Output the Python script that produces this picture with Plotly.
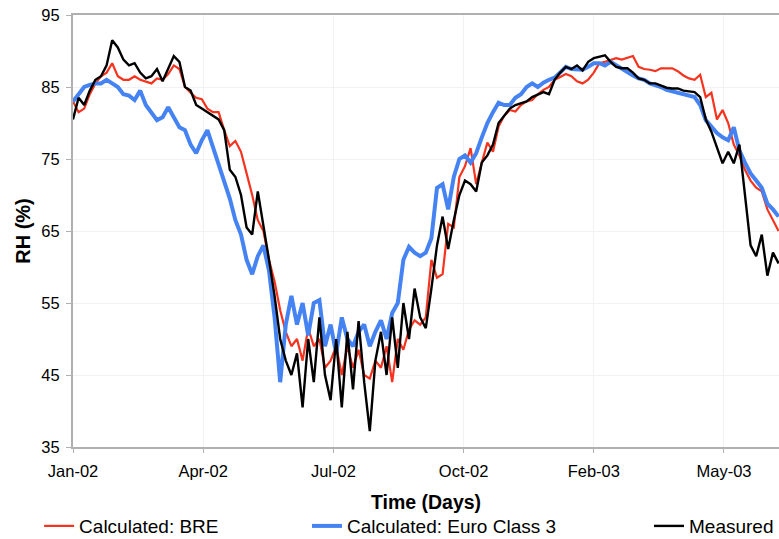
import pandas as pd
import plotly.graph_objects as go

# ---- data (one value every 4 days) ----
start_date = "2002-01-25"
step_days = 4

measured = [80.5, 83.5, 82.5, 84.5, 86, 86.5, 88, 91.5, 90.5, 88.8,
            88, 88.3, 87, 86.2, 86.5, 87.5, 85.8, 87.5, 89.3, 88.5,
            85, 84.5, 82.5, 82, 81.5, 81, 80.5, 79, 73.5, 72.5,
            70, 65.5, 64.5, 70.5, 66, 61, 56, 50, 47, 45,
            48, 40.5, 50, 44, 53, 45, 41.5, 50, 40.5, 51,
            43, 52.5, 44, 37.2, 47, 51, 45, 53, 46, 55,
            50, 57, 53, 51.5, 57, 63, 67, 62.5, 66.5, 70,
            72, 71.5, 70.5, 74.5, 75.5, 77, 80, 81, 82, 82.5,
            82.8, 83, 83.6, 84, 84.3, 84, 86, 87, 87.8, 87.5,
            88, 87.3, 88.5, 89, 89.2, 89.4, 88.5, 87.8, 87.6, 87.6,
            87, 86.2, 86, 85.5, 85.5, 85.2, 84.9, 84.8, 84.8, 84.5,
            84.4, 84.3, 83.6, 80.5, 78.8, 76.7, 74.4, 76, 74.4, 77,
            70, 63, 61.5, 64.5, 58.8, 62, 60.5]

bre = [83, 81.5, 82, 84, 85.5, 86.5, 87, 88.3, 86.5, 86,
       86, 86.5, 86, 85.8, 85.5, 86.2, 86, 86.8, 88, 87.5,
       85, 84.2, 83.5, 83.3, 82, 81.5, 81.5, 79, 76.8, 77.5,
       76, 73, 70, 66.5, 65, 61, 58, 54, 51, 49,
       50, 47, 51.5, 49, 50, 46, 47, 49, 45, 49,
       46, 48.5, 45, 44.5, 47, 46, 49, 44, 50, 48.5,
       51.3, 52.6, 52, 53, 61, 58.5, 59, 66, 65.5, 72.5,
       74, 76.5, 71.5, 74.5, 77.3, 76, 79.5, 81, 81.8, 81.6,
       82.5, 83, 83.2, 84, 84.6, 85, 86, 86.4, 86.8, 86.5,
       85.8, 85.5, 86, 87, 88.3, 88.5, 88.7, 89, 88.8, 89,
       89.3, 87.8, 87.5, 87.4, 87.2, 87.6, 87.6, 87.6, 87.2, 86.6,
       86.2, 86, 86.7, 83.6, 84.2, 80.5, 81.8, 80, 77, 75.5,
       73.5, 72, 71, 70.5, 68, 66.5, 65]

euro3 = [83, 84, 85, 85.3, 85.5, 85.5, 86, 85.5, 85, 84,
         83.8, 83.2, 84.5, 82.5, 81.5, 80.4, 80.8, 82.2, 80.8, 79.4,
         79, 77, 75.8, 77.6, 79, 76.7, 74.5, 72, 69.5, 66.5,
         64.5, 61, 59, 61.5, 63, 59.5, 53, 44, 52, 56,
         52, 55, 50.5, 55, 55.4, 49, 52, 48, 53, 50,
         49, 51, 52, 49, 51, 52.6, 50, 53.6, 55, 61,
         62.8, 62, 61.5, 62, 64, 71, 71.5, 68, 72.5, 75,
         75.5, 74.5, 75.8, 78, 80, 81.5, 82.8, 82.5, 82.5, 83.5,
         84, 85, 85.5, 85, 85.6, 86, 86.3, 87, 87.8, 87.5,
         87.5, 87.4, 87.8, 88.3, 88.3, 88, 88.5, 88, 87.5, 87,
         86.6, 86.2, 86, 85.5, 85.3, 85, 84.6, 84.4, 84.2, 84,
         83.8, 83.6, 82.5, 80.4, 79.5, 78.6, 78, 77.6, 79.4, 76.2,
         74.5, 73, 72, 71, 68.8, 68, 67]

tick_dates = ["2002-01-25", "2002-04-28", "2002-07-30",
              "2002-10-31", "2003-02-01", "2003-05-05"]
tick_labels = ["Jan-02", "Apr-02", "Jul-02", "Oct-02", "Feb-03", "May-03"]
y_ticks = [35, 45, 55, 65, 75, 85, 95]

dates = pd.date_range(start_date, periods=len(measured), freq=f"{step_days}D")

FONT = "Liberation Sans, Arial, sans-serif"

fig = go.Figure()
fig.add_trace(go.Scatter(x=dates, y=bre, mode="lines", name="Calculated: BRE",
                         line=dict(color="#f5331e", width=2.2), legend="legend"))
fig.add_trace(go.Scatter(x=dates, y=euro3, mode="lines", name="Calculated: Euro Class 3",
                         line=dict(color="#4683f2", width=4), legend="legend2"))
fig.add_trace(go.Scatter(x=dates, y=measured, mode="lines", name="Measured",
                         line=dict(color="#000000", width=2.4), legend="legend3"))

x_end = pd.Timestamp(start_date) + pd.Timedelta(days=504.3)

leg_common = dict(orientation="h", yanchor="middle",
                  font=dict(family=FONT, size=19, color="#000000"),
                  bgcolor="rgba(0,0,0,0)", borderwidth=0)
leg_y = -0.183

fig.update_layout(
    width=779, height=539,
    margin=dict(l=73, r=0, t=15, b=92, autoexpand=False),
    paper_bgcolor="white", plot_bgcolor="white",
    showlegend=True,
    font=dict(family=FONT, size=16, color="#000000"),
    legend=dict(x=-0.048, y=leg_y, xanchor="left", **leg_common),
    legend2=dict(x=0.3314, y=leg_y, xanchor="left", **leg_common),
    legend3=dict(x=1.0, y=leg_y, xanchor="right", **leg_common),
    xaxis=dict(
        type="date", range=[pd.Timestamp(start_date), x_end],
        tickmode="array", tickvals=tick_dates, ticktext=tick_labels,
        showgrid=True, gridcolor="#f2f2f2", gridwidth=1,
        showline=True, linecolor="#b0b0b0", linewidth=2, mirror=True,
        ticks="outside", ticklen=4, tickcolor="#b0b0b0",
        ticklabelstandoff=4,
        tickfont=dict(family=FONT, size=16.5, color="#000000"),
        title=dict(text="<b>Time (Days)</b>", standoff=17,
                   font=dict(family=FONT, size=19.5, color="#000000")),
        zeroline=False,
    ),
    yaxis=dict(
        range=[35, 95], tickmode="array", tickvals=y_ticks,
        showgrid=True, gridcolor="#f2f2f2", gridwidth=1,
        showline=True, linecolor="#b0b0b0", linewidth=2,
        ticks="outside", ticklen=5, tickcolor="#b0b0b0",
        ticklabelstandoff=3,
        tickfont=dict(family=FONT, size=16.5, color="#000000"),
        title=dict(text="<b>RH (%)</b>", standoff=5,
                   font=dict(family=FONT, size=20, color="#000000")),
        zeroline=False,
    ),
)

fig.write_html("out.html")
